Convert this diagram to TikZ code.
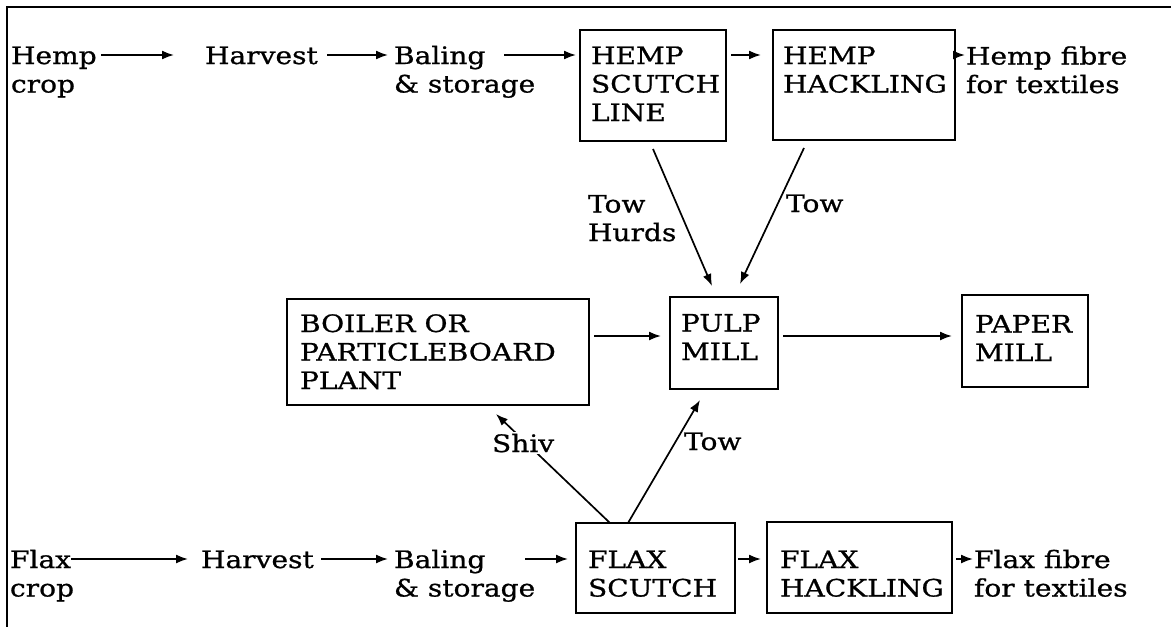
\documentclass[tikz,border=0pt]{standalone}
\usepackage{fontspec}
\setmainfont{DejaVu Serif}[FakeStretch=1.17,FakeBold=0.8]
\usetikzlibrary{arrows.meta}
\begin{document}
\begin{tikzpicture}[x=1pt,y=-1pt,
 txt/.style={font=\fontsize{24}{28.5}\selectfont, inner sep=0pt, outer sep=0pt, align=left, anchor=base west},
 boxst/.style={draw, line width=1.9pt, anchor=north west, inner sep=0pt, outer sep=0pt},
 arr/.style={line width=1.7pt, -{Latex[length=12pt,width=9pt]}},
 frame/.style={line width=1.9pt}]
\fill[white] (0,0) rectangle (1171,627);
\useasboundingbox (0,0) rectangle (1171,627);
\draw[frame] (7,627) -- (7,7) -- (1171,7);

% row 1 (base west = baseline of the last line)
\node[txt] (hemp) at (11,92.5) {Hemp\\crop};
\node[txt] (harv1) at (205,64) {Harvest};
\node[txt] (bal1) at (394,92.5) {Baling\\\& storage};
\node[boxst, minimum width=146pt, minimum height=111pt] (hs) at (580,30) {};
\node[txt] (hsT) at (591,121) {HEMP\\SCUTCH\\LINE};
\node[boxst, minimum width=182pt, minimum height=110pt] (hh) at (773,30) {};
\node[txt] (hhT) at (783,92.5) {HEMP\\HACKLING};
\node[txt] (hfib) at (966,93) {Hemp fibre\\for textiles};
\draw[arr] ([shift={(90,-37.5)}]hemp.base west) -- ([shift={(-31,-9)}]harv1.base west);
\draw[arr] ([shift={(122,-9)}]harv1.base west) -- ([shift={(-6,-37.5)}]bal1.base west);
\draw[arr] ([shift={(110,-37.5)}]bal1.base west) -- ([shift={(-4,25)}]hs.north west);
\draw[arr] ([shift={(5,25)}]hs.north east) -- ([shift={(-12,25)}]hh.north west);
\draw[arr] ([shift={(1,25)}]hh.north east) -- ([shift={(-1,-38)}]hfib.base west);

% middle
\node[boxst, minimum width=302pt, minimum height=106pt] (boil) at (287,299) {};
\node[txt] (boilT) at (300,389) {BOILER OR\\PARTICLEBOARD\\PLANT};
\node[boxst, minimum width=108pt, minimum height=92pt] (pulp) at (670,297) {};
\node[txt] (pulpT) at (681,360) {PULP\\MILL};
\node[boxst, minimum width=126pt, minimum height=92pt] (paper) at (962,295) {};
\node[txt] (paperT) at (975,361) {PAPER\\MILL};
\draw[arr] ([shift={(5,37)}]boil.north east) -- ([shift={(-9,39)}]pulp.north west);
\draw[arr] ([shift={(5,39)}]pulp.north east) -- ([shift={(-10,41)}]paper.north west);

\draw[arr] ([shift={(73,8)}]hs.south west) -- ([shift={(42,-11)}]pulp.north west);
\draw[arr] ([shift={(31,8)}]hh.south west) -- ([shift={(70,-13)}]pulp.north west);
\node[txt] (towhurds) at (588,241) {Tow\\Hurds};
\node[txt] (tow1) at (786,212) {Tow};

% bottom row
\node[txt] (flax) at (10,596.5) {Flax\\crop};
\node[txt] (harv2) at (201,568) {Harvest};
\node[txt] (bal2) at (394,596.5) {Baling\\\& storage};
\node[boxst, minimum width=159pt, minimum height=90pt] (fs) at (576,523) {};
\node[txt] (fsT) at (588,596.5) {FLAX\\SCUTCH};
\node[boxst, minimum width=185pt, minimum height=91pt] (fh) at (767,522) {};
\node[txt] (fhT) at (780,596.5) {FLAX\\HACKLING};
\node[txt] (ffib) at (974,596.5) {Flax fibre\\for textiles};
\draw[arr] ([shift={(61,-37.5)}]flax.base west) -- ([shift={(-13,-9)}]harv2.base west);
\draw[arr] ([shift={(120,-9)}]harv2.base west) -- ([shift={(-6,-37.5)}]bal2.base west);
\draw[arr] ([shift={(131,-37.5)}]bal2.base west) -- ([shift={(-8,36)}]fs.north west);
\draw[arr] ([shift={(3,36)}]fs.north east) -- ([shift={(-6,37)}]fh.north west);
\draw[arr] ([shift={(4,37)}]fh.north east) -- ([shift={(-1,-37.5)}]ffib.base west);

\draw[arr] ([xshift=34pt]fs.north west) -- ([shift={(209,9)}]boil.south west);
\node[txt, fill=white, inner sep=2pt] (shiv) at (490,452) {Shiv};
\draw[arr] ([xshift=52pt]fs.north west) -- ([shift={(30,11)}]pulp.south west);
\node[txt] (tow2) at (684,450) {Tow};
\end{tikzpicture}
\end{document}
